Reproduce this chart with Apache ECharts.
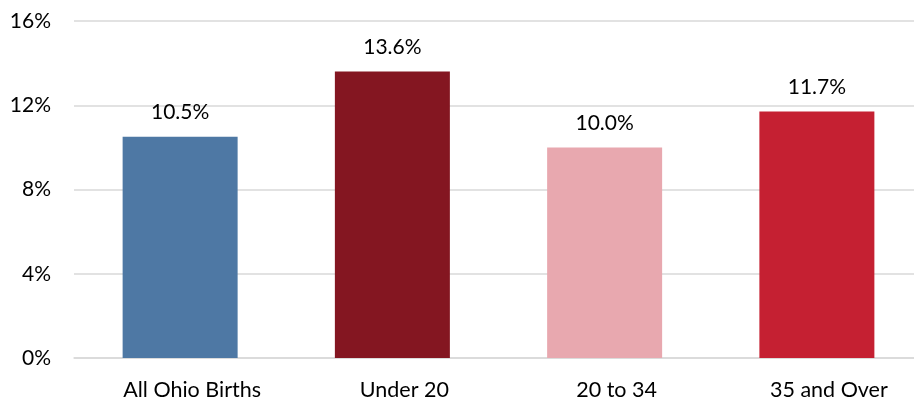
<!DOCTYPE html>
<html><head><meta charset="utf-8">
<script src="https://cdn.jsdelivr.net/npm/echarts@6/dist/echarts.min.js"></script>
<style>html,body{margin:0;padding:0;background:#fff;overflow:hidden}#c{width:932px;height:402px}</style>
</head><body><div id="c"></div>
<script>
const categories = ["All Ohio Births", "Under 20", "20 to 34", "35 and Over"];
const values = [10.5, 13.6, 10.0, 11.7];
const colors = ["#4E78A4", "#841621", "#E8A8AF", "#C52032"];
const yTicks = [0, 4, 8, 12, 16];

const chart = echarts.init(document.getElementById('c'), null, {renderer: 'canvas'});
chart.setOption({
  animation: false,
  grid: {left: 74, right: 9, top: 21, bottom: 44},
  xAxis: {
    type: 'category', data: categories,
    axisLine: {lineStyle: {color: '#D9D9D9', width: 1.5}},
    axisTick: {show: false},
    axisLabel: {color: '#000', fontFamily: 'Lato', fontSize: 21.5, margin: 21,
      padding: [0, 0, 0, 24]}
  },
  yAxis: {
    type: 'value', min: yTicks[0], max: yTicks[yTicks.length - 1], interval: 4,
    axisLine: {show: false}, axisTick: {show: false},
    splitLine: {lineStyle: {color: '#D9D9D9', width: 1.5}},
    axisLabel: {color: '#000', fontFamily: 'Lato', fontSize: 21, margin: 23,
      formatter: v => v + '%'}
  },
  series: [{
    type: 'bar', barWidth: 115,
    data: values.map((v, i) => ({value: v, itemStyle: {color: colors[i]}})),
    label: {show: true, position: 'top', distance: 14, color: '#000',
      fontFamily: 'Lato', fontSize: 21, formatter: p => p.value.toFixed(1) + '%'}
  }]
});
</script></body></html>
